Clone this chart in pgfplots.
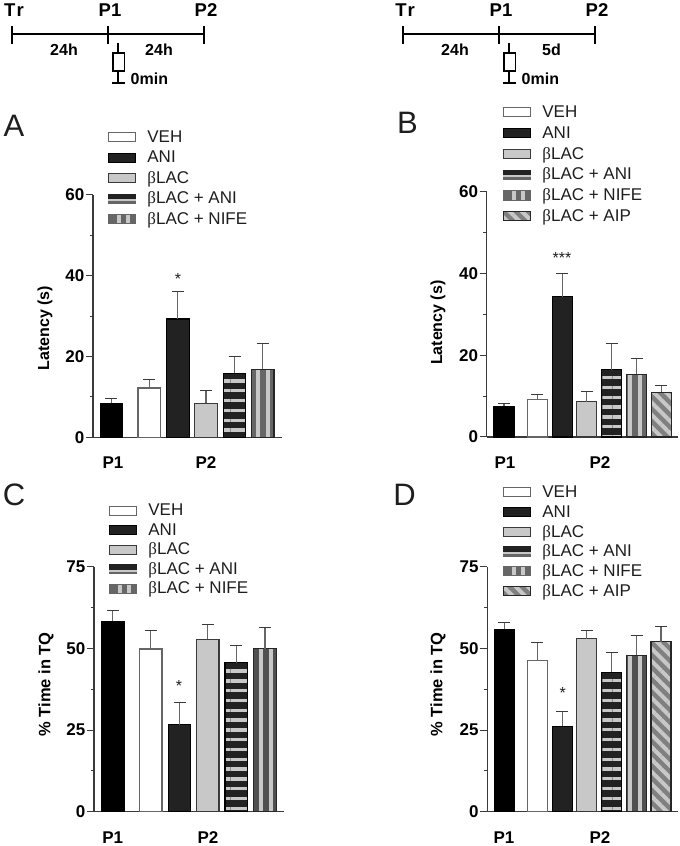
\documentclass[border=0pt]{standalone}
\usepackage{fontspec}
\setmainfont{Liberation Sans}
\newfontfamily\betaf{Liberation Serif}
\usepackage{pgfplots}
\pgfplotsset{compat=1.18}
\usetikzlibrary{patterns.meta}
\definecolor{axc}{HTML}{3A3A3A}
\definecolor{txt}{HTML}{1E1E1E}
\definecolor{dk}{HTML}{222222}
\definecolor{lg}{HTML}{C8C8C8}
\definecolor{vd}{HTML}{666666}
\definecolor{vd2}{HTML}{505050}
\definecolor{dg}{HTML}{808080}
\newcommand{\bL}{{\betaf β}LAC}
\newcommand{\fs}[1]{\fontsize{#1}{#1}\selectfont}
\tikzset{
 sP1/.style={draw=black,fill=black,line width=1.1pt},
 sVEH/.style={draw=vd,fill=white,line width=1.2pt},
 sANI/.style={draw=black,fill=dk,line width=1.1pt},
 sBL/.style={draw=axc,fill=lg,line width=1.2pt},
 sH/.style={draw=black,line width=1.2pt,preaction={fill=dk},preaction={pattern={Lines[angle=0,distance=9.8pt,line width=3.3pt,yshift=#1]},pattern color=lg}},
 sV/.style={draw=black!85,line width=1.2pt,preaction={fill=vd},preaction={pattern={Lines[angle=90,distance=10pt,line width=3.7pt,xshift=#1]},pattern color=lg}},
 sVd/.style={draw=black!85,line width=1.2pt,preaction={fill=vd2},preaction={pattern={Lines[angle=90,distance=10pt,line width=3.7pt,xshift=#1]},pattern color=lg}},
 sD/.style={draw=black!85,line width=1.2pt,preaction={fill=dg},preaction={pattern={Lines[angle=-45,distance=8.7pt,line width=4pt,yshift=#1]},pattern color=lg}},
}
\pgfplotsset{
 lr/.style={legend image code/.code={\draw[##1] (0pt,-4.5pt) rectangle (27pt,4.5pt);}},
 lh/.style={legend image code/.code={\fill[dk] (0pt,-4.5pt) rectangle (27pt,4.5pt);\fill[lg] (0pt,-3pt) rectangle (27pt,-1pt);\fill[vd] (0pt,-4.5pt) rectangle (27pt,-3pt);}},
 lv/.style={legend image code/.code={\fill[vd] (0pt,-4.5pt) rectangle (27pt,4.5pt);\fill[lg] (9pt,-3.5pt) rectangle (12pt,3.5pt);\fill[lg] (17.5pt,-3.5pt) rectangle (20.5pt,3.5pt);}},
 ld/.style={legend image code/.code={\draw[##1] (0pt,-4.5pt) rectangle (27pt,4.5pt);}},
 panel/.style={
  scale only axis, clip=false,
  axis x line*=bottom, axis y line*=left,
  axis line style={-,color=axc,line width=1.2pt},
  xtick=\empty, xtick style={draw=none},
  ymin=0,
  minor y tick num=1,
  tick align=outside,
  major tick length=7pt, minor tick length=3.5pt,
  ytick style={color=axc,line width=1pt},
  minor tick style={color=axc,line width=1pt},
  tick label style={font=\bfseries\fs{17},text=black,inner sep=1.5pt},
  /pgf/number format/assume math mode=true,
  error bars/y dir=plus, error bars/y explicit,
  error bars/error bar style={color=vd,line width=1.2pt},
  error bars/error mark options={rotate=90,mark size=6pt,color=axc,line width=1.1pt},
  legend cell align=left,
 },
}
\newcommand{\onebar}[4]{\addplot[ybar,bar shift=0pt,#1] coordinates {(#2,#3) +- (0,#4)};}
\newcommand{\timeline}[3]{%
 \begin{scope}[shift={(#1,0)},line width=1.4pt,color=black]
 \draw (12,812) -- (204,812);
 \draw (12,802) -- (12,820) (108,802) -- (108,820) (204,802) -- (204,820);
 \node[font=\bfseries\fs{18.5}] at (14,836) {T\kern1pt r};
 \node[font=\bfseries\fs{18.5}] at (110,836) {P1};
 \node[font=\bfseries\fs{18.5}] at (206,836) {P2};
 \node[font=\bfseries\fs{16}] at (64,796) {24h};
 \node[font=\bfseries\fs{16}] at (#3,796) {#2};
 \draw (118,803) -- (118,793) (118,775) -- (118,764) (112,763) -- (125,763);
 \draw (113,793) rectangle (124.5,775);
 \node[font=\bfseries\fs{16},anchor=west,inner sep=0pt] at (130,767) {0min};
 \end{scope}}
\begin{document}
\begin{tikzpicture}[x=1pt,y=1pt]
\path[use as bounding box] (0,0) rectangle (680,846);
\timeline{0}{24h}{159}
\timeline{391}{5d}{160.5}
\foreach \l/\x/\y in {A/14/720,B/407.5/723,C/14/351,D/404.5/351}
  \node[font=\fs{31},text=txt] at (\x,\y) {\l};

%%% A
\begin{axis}[panel,at={(93pt,408.7pt)},anchor=south west,width=188.7pt,height=242.3pt,
 xmin=93,xmax=281.7,ymax=60,ytick={0,20,40,60},bar width=22.5pt,
 ylabel={Latency (s)},
 every axis y label/.style={at={(axis cs:45,27)},rotate=90,anchor=center,font=\bfseries\fs{16},text=black},
 legend style={draw=none,fill=none,inner sep=0pt,at={(axis cs:108,76.9)},anchor=north west,
  nodes={inner sep=0pt,minimum height=20.5pt,font=\fs{17},text=txt},/tikz/column sep=0pt}]
\onebar{sP1,forget plot}{111.3}{8.4}{1.15}
\onebar{sVEH,lr}{149.3}{12.2}{2.1}\addlegendentry{\hspace{11pt}VEH}
\onebar{sANI,lr}{177.8}{29.3}{6.7}\addlegendentry{\hspace{11pt}ANI}
\onebar{sBL,lr}{206}{8.4}{3.1}\addlegendentry{\hspace{11pt}\bL}
\onebar{sH=4.4pt,lh}{234.5}{15.8}{4.2}\addlegendentry{\hspace{11pt}\bL\ + ANI}
\onebar{sV=-1.7pt,lv}{262.7}{16.8}{6.5}\addlegendentry{\hspace{11pt}\bL\ + NIFE}
\node[font=\fs{16},text=txt] at (axis cs:178,39.2) {*};
\node[font=\bfseries\fs{17}] at (axis cs:113,-6.3) {P1};
\node[font=\bfseries\fs{17}] at (axis cs:206,-6.3) {P2};
\end{axis}

%%% B
\begin{axis}[panel,at={(486.7pt,409pt)},anchor=south west,width=191.3pt,height=245pt,
 xmin=486.7,xmax=678,ymax=60,ytick={0,20,40,60},bar width=20pt,
 ylabel={Latency (s)},
 every axis y label/.style={at={(axis cs:438,28)},rotate=90,anchor=center,font=\bfseries\fs{16},text=black},
 legend style={draw=none,fill=none,inner sep=0pt,at={(axis cs:503,82.1)},anchor=north west,
  nodes={inner sep=0pt,minimum height=20.8pt,font=\fs{17},text=txt}}]
\onebar{sP1,forget plot}{504}{7.5}{0.8}
\onebar{sVEH,lr}{537.2}{9.15}{1.15}\addlegendentry{\hspace{11pt}VEH}
\onebar{sANI,lr}{562.2}{34.3}{5.7}\addlegendentry{\hspace{11pt}ANI}
\onebar{sBL,lr}{586.8}{8.66}{2.44}\addlegendentry{\hspace{11pt}\bL}
\onebar{sH=7.7pt,lh}{611.7}{16.5}{6.3}\addlegendentry{\hspace{11pt}\bL\ + ANI}
\onebar{sV=0pt,lv}{636.5}{15.4}{3.8}\addlegendentry{\hspace{11pt}\bL\ + NIFE}
\onebar{sD=0pt,ld}{661.2}{10.9}{1.7}\addlegendentry{\hspace{11pt}\bL\ + AIP}
\node[font=\fs{16},text=txt] at (axis cs:562,43.8) {***};
\node[font=\bfseries\fs{17}] at (axis cs:505,-6.2) {P1};
\node[font=\bfseries\fs{17}] at (axis cs:600,-6.2) {P2};
\end{axis}

%%% C
\begin{axis}[panel,at={(94pt,34.3pt)},anchor=south west,width=190.3pt,height=245pt,
 xmin=94,xmax=284.3,ymax=75,ytick={0,25,50,75},bar width=22.8pt,
 ylabel={\% Time in TQ},
 every axis y label/.style={at={(axis cs:46,39)},rotate=90,anchor=center,font=\bfseries\fs{16.5},text=black},
 legend style={draw=none,fill=none,inner sep=0pt,at={(axis cs:109,95.2)},anchor=north west,
  nodes={inner sep=0pt,minimum height=19.5pt,font=\fs{17},text=txt}}]
\onebar{sP1,forget plot}{112.8}{58.3}{3.2}
\onebar{sVEH,lr}{150.5}{49.8}{5.7}\addlegendentry{\hspace{11pt}VEH}
\onebar{sANI,lr}{179.5}{26.6}{6.8}\addlegendentry{\hspace{11pt}ANI}
\onebar{sBL,lr}{207.5}{52.75}{4.55}\addlegendentry{\hspace{11pt}\bL}
\onebar{sH=8.3pt,lh}{236.3}{45.6}{5.3}\addlegendentry{\hspace{11pt}\bL\ + ANI}
\onebar{sVd=1pt,lv}{265}{49.9}{6.6}\addlegendentry{\hspace{11pt}\bL\ + NIFE}
\node[font=\fs{16},text=txt] at (axis cs:179,38.5) {*};
\node[font=\bfseries\fs{17}] at (axis cs:112.7,-8) {P1};
\node[font=\bfseries\fs{17}] at (axis cs:208,-8) {P2};
\end{axis}

%%% D
\begin{axis}[panel,at={(487.3pt,34.3pt)},anchor=south west,width=191pt,height=245pt,
 xmin=487.3,xmax=678.3,ymax=75,ytick={0,25,50,75},bar width=20pt,
 ylabel={\% Time in TQ},
 every axis y label/.style={at={(axis cs:438,39)},rotate=90,anchor=center,font=\bfseries\fs{16.5},text=black},
 legend style={draw=none,fill=none,inner sep=0pt,at={(axis cs:503,100.9)},anchor=north west,
  nodes={inner sep=0pt,minimum height=19.8pt,font=\fs{17},text=txt}}]
\onebar{sP1,forget plot}{504.2}{55.8}{2.2}
\onebar{sVEH,lr}{537.3}{46.2}{5.6}\addlegendentry{\hspace{11pt}VEH}
\onebar{sANI,lr}{562.2}{26.2}{4.5}\addlegendentry{\hspace{11pt}ANI}
\onebar{sBL,lr}{586.8}{53}{2.5}\addlegendentry{\hspace{11pt}\bL}
\onebar{sH=8.4pt,lh}{611.8}{42.7}{6}\addlegendentry{\hspace{11pt}\bL\ + ANI}
\onebar{sVd=0pt,lv}{636.5}{47.9}{6.1}\addlegendentry{\hspace{11pt}\bL\ + NIFE}
\onebar{sD=0pt,ld}{661}{52}{4.7}\addlegendentry{\hspace{11pt}\bL\ + AIP}
\node[font=\fs{16},text=txt] at (axis cs:562.7,36.2) {*};
\node[font=\bfseries\fs{17}] at (axis cs:504,-8) {P1};
\node[font=\bfseries\fs{17}] at (axis cs:600,-8) {P2};
\end{axis}
\end{tikzpicture}
\end{document}
